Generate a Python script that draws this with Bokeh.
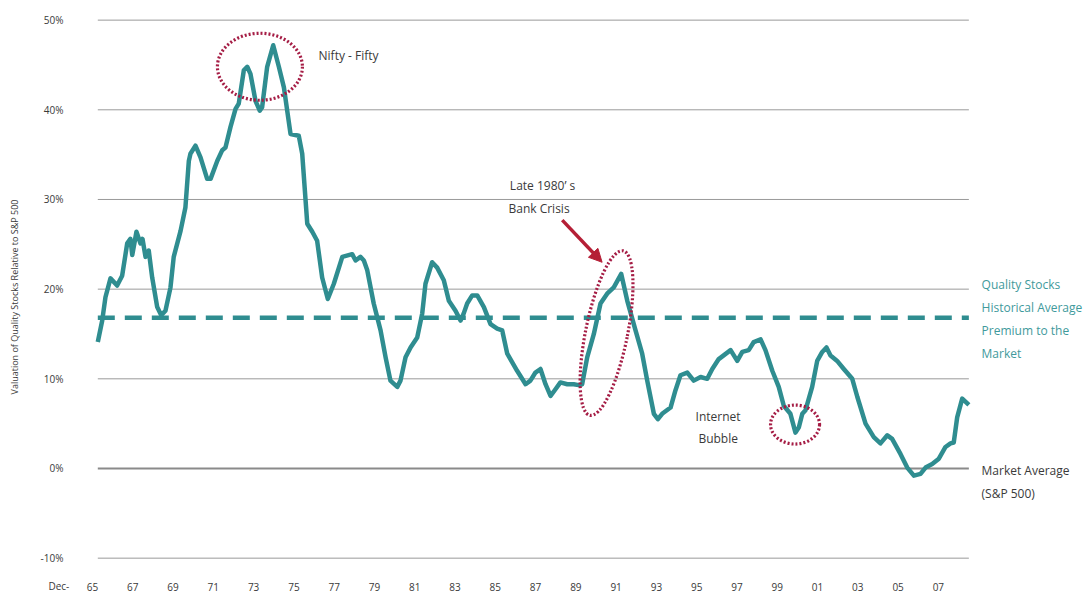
from bokeh.plotting import figure
from bokeh.models import (Range1d, FixedTicker, Label, Arrow, NormalHead,
                          CustomJSTickFormatter, PrintfTickFormatter)
from bokeh.embed import file_html
from bokeh.resources import INLINE

# Valuation premium of quality stocks over the S&P 500 (%), by decimal year
years = [1966.18, 1966.40, 1966.56, 1966.81, 1967.14, 1967.39, 1967.64, 1967.80, 1967.89, 1968.10,
         1968.30, 1968.40, 1968.55, 1968.71, 1968.88, 1969.13, 1969.33, 1969.54, 1969.79, 1969.95,
         1970.29, 1970.53, 1970.70, 1970.78, 1971.03, 1971.28, 1971.61, 1971.78, 1972.11, 1972.36,
         1972.52, 1972.77, 1973.02, 1973.18, 1973.43, 1973.60, 1973.76, 1974.01, 1974.22, 1974.34,
         1974.59, 1974.89, 1975.17, 1975.42, 1975.75, 1976.16, 1976.33, 1976.58, 1976.83, 1977.07,
         1977.32, 1977.60, 1977.90, 1978.32, 1978.81, 1978.98, 1979.22, 1979.39, 1979.56, 1979.88,
         1980.22, 1980.47, 1980.71, 1981.05, 1981.21, 1981.46, 1981.71, 1982.04, 1982.29, 1982.45,
         1982.78, 1983.03, 1983.36, 1983.61, 1983.94, 1984.19, 1984.35, 1984.52, 1984.77, 1985.02,
         1985.35, 1985.68, 1986.01, 1986.26, 1986.51, 1987.00, 1987.42, 1987.66, 1987.91, 1988.16,
         1988.41, 1988.66, 1988.86, 1989.15, 1989.49, 1989.81, 1990.06, 1990.23, 1990.48, 1990.81,
         1991.14, 1991.47, 1991.80, 1992.17, 1992.47, 1992.88, 1993.21, 1993.46, 1993.79, 1993.99,
         1994.20, 1994.62, 1994.86, 1995.11, 1995.45, 1995.77, 1996.11, 1996.44, 1996.69, 1997.01,
         1997.60, 1997.93, 1998.18, 1998.50, 1998.75, 1999.09, 1999.33, 1999.67, 1999.99, 2000.24,
         2000.57, 2000.82, 2000.99, 2001.16, 2001.32, 2001.65, 2001.90, 2002.15, 2002.36, 2002.56,
         2002.89, 2003.22, 2003.64, 2003.89, 2004.30, 2004.71, 2005.04, 2005.38, 2005.62, 2006.04,
         2006.37, 2006.70, 2007.03, 2007.28, 2007.61, 2007.94, 2008.27, 2008.52, 2008.68, 2008.85,
         2009.10, 2009.43]

premium = [14.1, 16.5, 19.1, 21.2, 20.4, 21.5, 25.1, 25.6, 23.8, 26.4,
           25.1, 25.6, 23.6, 24.3, 21.3, 18.0, 17.1, 17.6, 20.2, 23.6,
           26.5, 29.1, 34.3, 35.1, 36.0, 34.7, 32.3, 32.3, 34.3, 35.5,
           35.8, 38.1, 40.1, 40.7, 44.4, 44.8, 44.0, 41.0, 39.9, 40.3,
           44.8, 47.2, 44.8, 42.5, 37.3, 37.1, 35.1, 27.3, 26.4, 25.4,
           21.3, 18.9, 20.6, 23.6, 23.9, 23.2, 23.6, 23.2, 22.1, 18.4,
           15.4, 12.4, 9.8, 9.1, 9.8, 12.4, 13.5, 14.6, 17.3, 20.6,
           23.0, 22.4, 21.0, 18.7, 17.6, 16.5, 17.3, 18.4, 19.3, 19.3,
           18.0, 16.1, 15.6, 15.4, 12.8, 10.9, 9.4, 9.8, 10.7, 11.1,
           9.4, 8.1, 8.7, 9.6, 9.4, 9.4, 9.3, 9.4, 12.4, 15.0,
           18.4, 19.5, 20.2, 21.7, 18.7, 15.4, 12.8, 9.8, 6.1, 5.5,
           6.1, 6.8, 8.7, 10.4, 10.7, 9.8, 10.2, 10.0, 11.1, 12.2,
           13.2, 12.0, 13.0, 13.2, 14.1, 14.4, 13.2, 10.9, 9.1, 7.0,
           6.1, 4.0, 4.6, 6.1, 6.5, 9.1, 12.0, 13.0, 13.5, 12.6,
           12.0, 11.1, 10.0, 8.0, 5.0, 3.5, 2.8, 3.7, 3.3, 1.6,
           0.1, -0.8, -0.6, 0.1, 0.5, 1.1, 2.4, 2.8, 2.9, 5.7,
           7.8, 7.1]

historical_average = 16.8
y_ticks = [-10, 0, 10, 20, 30, 40, 50]
tick_years = list(range(1965, 2008, 2))          # December of every other year
tick_positions = [y + 11 / 12 for y in tick_years]

TEAL = "#2f8d90"
CRIMSON = "#a51d45"
ARROW_RED = "#b51f36"
GRID = "#9a9a9a"
TEXT = "#3a3a3a"
FONT = "Open Sans"

# the plotting frame covers the whole canvas; both axes are pinned inside it
p = figure(width=1086, height=593, output_backend="svg", toolbar_location=None,
           x_range=Range1d(1961.349, 2015.271), y_range=Range1d(-13.94, 52.19),
           min_border=0)
p.outline_line_color = None
p.grid.visible = False

# horizontal rules across the span of the series
x0, x1 = years[0], years[-1]
rule_levels = [v for v in y_ticks if v != 0]
p.segment(x0=[x0] * len(rule_levels), y0=rule_levels, x1=[x1] * len(rule_levels), y1=rule_levels,
          line_color=GRID, line_width=1)
p.segment(x0=[x0], y0=[0], x1=[x1], y1=[0], line_color="#8a8a8a", line_width=2)

# historical average premium
p.line([x0, x1], [historical_average, historical_average], line_color=TEAL,
       line_width=4.5, line_dash="17 10")

# premium series
p.line(years, premium, line_color=TEAL, line_width=4.5, line_join="round")

# highlighted episodes
p.ellipse(x=[1974.23, 1991.44, 2000.80], y=[44.8, 15.1, 4.9],
          width=[85, 42, 49], height=[67, 168, 39], angle=[0, -0.199, 0],
          width_units="screen", height_units="screen",
          fill_color=None, line_color=CRIMSON, line_width=3.2, line_dash="2 2")

p.add_layout(Arrow(end=NormalHead(size=13, fill_color=ARROW_RED, line_color=ARROW_RED),
                   x_start=1989.24, y_start=27.7, x_end=1991.22, y_end=23.0,
                   line_color=ARROW_RED, line_width=3.5))

def note(x, y, text, color=TEXT, size="12px"):
    p.add_layout(Label(x=x, y=y, text=text, text_font=FONT, text_font_size=size,
                       text_color=color, text_baseline="middle", text_align="left"))

note(1977.14, 46.06, "Nifty - Fifty")
note(1986.64, 31.56, "Late 1980’ s")
note(1986.57, 29.0, "Bank Crisis")
note(1995.86, 5.83, "Internet")
note(1996.00, 3.35, "Bubble")
for yv, t in zip([20.52, 17.95, 15.39, 12.82],
                 ["Quality Stocks", "Historical Average", "Premium to the", "Market"]):
    note(2010.06, yv, t, color="#3f9a9c")
note(2010.06, -0.22, "Market Average")
note(2010.06, -2.79, "(S&P 500)")
note(1963.73, -13.10, "Dec-", size="10px")

# axes
for ax in (p.xaxis[0], p.yaxis[0]):
    ax.axis_line_color = None
    ax.major_tick_line_color = None
    ax.minor_tick_line_color = None
    ax.major_label_text_font = FONT
    ax.major_label_text_font_size = "10px"
    ax.major_label_text_color = TEXT

p.xaxis.fixed_location = -10.82
p.xaxis.ticker = FixedTicker(ticks=tick_positions)
p.xaxis.formatter = CustomJSTickFormatter(
    code="return String(Math.floor(tick + 0.01) % 100).padStart(2, '0');")
p.xaxis.major_label_standoff = 11

p.yaxis.fixed_location = 1965.569
p.yaxis.ticker = FixedTicker(ticks=y_ticks)
p.yaxis.formatter = PrintfTickFormatter(format="%d%%")
p.yaxis.major_label_standoff = 16
p.yaxis.axis_label = "Valuation of Quality Stocks Relative to S&P 500"
p.yaxis.axis_label_text_font = FONT
p.yaxis.axis_label_text_font_size = "9px"
p.yaxis.axis_label_text_font_style = "normal"
p.yaxis.axis_label_text_color = TEXT
p.yaxis.axis_label_standoff = 17

open("out.html", "w").write(file_html(p, INLINE))
